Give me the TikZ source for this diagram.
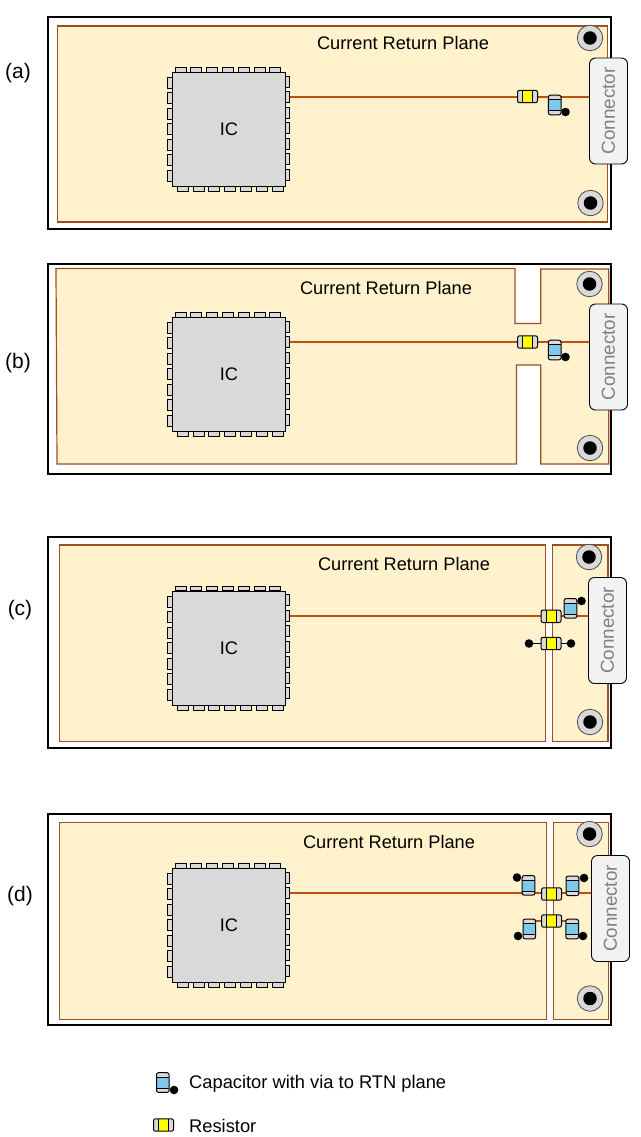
\documentclass[tikz,border=0pt]{standalone}
\usepackage{fontspec}
\setmainfont{Liberation Sans}
\pgfdeclarelayer{planes}
\pgfdeclarelayer{traces}
\pgfsetlayers{planes,traces,main}
\definecolor{planefill}{HTML}{FFF2CC}
\definecolor{planeedge}{HTML}{9C4F20}
\definecolor{tracecol}{HTML}{C0500F}
\definecolor{icgray}{HTML}{D9D9D9}
\definecolor{capblue}{HTML}{7EC8EA}
\definecolor{resyellow}{HTML}{FFFF00}
\tikzset{
  x=1pt,y=-1pt,
  boardframe/.style={draw=black,line width=2.2pt,fill=white},
  planeshape/.style={draw=planeedge,line width=1.2pt,fill=planefill},
  tracewire/.style={draw=tracecol,line width=1.8pt},
  blackwire/.style={draw=black,line width=1.2pt},
  pinbox/.style={draw=black,line width=.8pt,fill=icgray,inner sep=0,outer sep=0},
  icbody/.style={draw=black,line width=1pt,fill=icgray,inner sep=0,outer sep=0,minimum width=113.6pt,minimum height=114.2pt,font=\fontsize{18.2}{20}\selectfont},
  conbox/.style={draw=black,line width=.9pt,fill=black!5,rounded corners=6pt,inner sep=0,outer sep=0,minimum width=38pt,minimum height=106pt},
  context/.style={text=black!50,rotate=90,font=\fontsize{18.8}{20}\selectfont,inner sep=0},
  holeouter/.style={circle,draw=black!70,line width=.8pt,fill=icgray,minimum size=25.5pt,inner sep=0,outer sep=0},
  holeinner/.style={circle,fill=black,minimum size=13.5pt,inner sep=0,outer sep=0},
  viadot/.style={circle,fill=black,minimum size=8.6pt,inner sep=0,outer sep=0},
  resbox/.style={draw=black,line width=1pt,fill=icgray,rounded corners=2pt,inner sep=0,outer sep=0,minimum width=20pt,minimum height=12.4pt,
    path picture={\fill[resyellow] ([xshift=-5pt]path picture bounding box.south) rectangle ([xshift=5pt]path picture bounding box.north);
      \draw[black,line width=.6pt] ([xshift=-5pt]path picture bounding box.south) -- ([xshift=-5pt]path picture bounding box.north);
      \draw[black,line width=.6pt] ([xshift=5pt]path picture bounding box.south) -- ([xshift=5pt]path picture bounding box.north);}},
  capbox/.style={draw=black,line width=1pt,fill=icgray,rounded corners=2pt,inner sep=0,outer sep=0,minimum width=12.6pt,minimum height=19.6pt,
    path picture={\fill[capblue] ([yshift=-5.5pt]path picture bounding box.west) rectangle ([yshift=5.5pt]path picture bounding box.east);
      \draw[black,line width=.6pt] ([yshift=-5.5pt]path picture bounding box.west) -- ([yshift=-5.5pt]path picture bounding box.east);
      \draw[black,line width=.6pt] ([yshift=5.5pt]path picture bounding box.west) -- ([yshift=5.5pt]path picture bounding box.east);}},
  titletext/.style={font=\fontsize{18.2}{20}\selectfont,inner sep=0},
  panellabel/.style={font=\fontsize{21}{22}\selectfont,inner sep=0},
  legendtext/.style={font=\fontsize{18.3}{20}\selectfont,inner sep=0,anchor=west},
}
% IC with its pins: name, centre y
\newcommand{\icchip}[2]{%
  \foreach \k in {0,...,6}{%
    \node[pinbox,minimum width=11pt,minimum height=4.7pt] (#1-t\k) at ({180.5+15.8*\k},{#2-59.7}) {};
    \node[pinbox,minimum width=11pt,minimum height=4.7pt] (#1-b\k) at ({182.7+15.8*\k},{#2+59.7}) {};
    \node[pinbox,minimum width=4.7pt,minimum height=11pt] (#1-l\k) at (169.6,{#2-46.7+15.5*\k}) {};
    \node[pinbox,minimum width=4.4pt,minimum height=11pt] (#1-r\k) at (287.6,{#2-48+15.5*\k}) {};
  }
  \node[icbody] (#1) at (229,#2) {IC};
}
% connector: name, left x, centre y
\newcommand{\conblock}[3]{%
  \node[conbox,anchor=west] (#1) at (#2,#3) {};
  \node[context] (#1-text) at (#1.center) {Connector};
}
% mounting hole: name, x, y
\newcommand{\mounthole}[3]{%
  \node[holeouter] (#1) at (#2,#3) {};
  \node[holeinner] (#1-in) at (#1.center) {};
}
\begin{document}
\begin{tikzpicture}
\useasboundingbox (0,0) rectangle (640,1137);
\begin{pgfonlayer}{planes}
  \fill[white] (0,0) rectangle (640,1137);
\end{pgfonlayer}

% ---------- (a)
\begin{pgfonlayer}{planes}
  \draw[boardframe] (48,17) rectangle (611,229);
  \draw[planeshape] (57.5,26) rectangle (607.5,222);
\end{pgfonlayer}
\node[panellabel] (la) at (18,73) {(a)};
\node[titletext] (ta) at (403,43) {Current Return Plane};
\icchip{ica}{129.5}
\mounthole{ha1}{590}{38}
\mounthole{ha2}{590.5}{203}
\conblock{cona}{589.5}{111}
\node[resbox] (ra) at (527.5,96.5) {};
\node[capbox] (ca) at (554.7,105) {};
\node[viadot] (da) at (565.5,112) {};
\begin{pgfonlayer}{traces}
  \draw[tracewire] (ica-r1.east) -- (ica-r1.east -| cona.west);
\end{pgfonlayer}

% ---------- (b)
\begin{pgfonlayer}{planes}
  \draw[boardframe] (48,264) rectangle (611,474);
  \draw[planeshape] (56,268.5) -- (515,268.5) -- (515,323.5) -- (540.7,323.5) -- (540.7,269) -- (608.7,269) -- (608.7,464) -- (540.7,464) -- (540.7,365) -- (516.5,365) -- (516.5,464) -- (57,464) -- cycle;
\end{pgfonlayer}
\node[panellabel] (lb) at (18,363) {(b)};
\node[titletext] (tb) at (386,288) {Current Return Plane};
\icchip{icb}{374.5}
\mounthole{hb1}{589.5}{284}
\mounthole{hb2}{590}{448}
\conblock{conb}{589.5}{357}
\node[resbox] (rb) at (527.5,342) {};
\node[capbox] (cb) at (554.7,350) {};
\node[viadot] (db) at (565.5,357) {};
\begin{pgfonlayer}{traces}
  \draw[tracewire] (icb-r1.east) -- (icb-r1.east -| conb.west);
\end{pgfonlayer}

% ---------- (c)
\begin{pgfonlayer}{planes}
  \draw[boardframe] (48,537) rectangle (611,748);
  \draw[planeshape] (59.5,545) rectangle (545.5,741.5);
  \draw[planeshape] (552.5,545) rectangle (608,741.5);
\end{pgfonlayer}
\node[panellabel] (lc) at (20,610) {(c)};
\node[titletext] (tc) at (404,564) {Current Return Plane};
\icchip{icc}{648.2}
\mounthole{hc1}{589}{557}
\mounthole{hc2}{590}{722}
\conblock{conc}{588.5}{630.5}
\node[resbox] (rc1) at (551,616.3) {};
\node[resbox] (rc2) at (551,643.5) {};
\node[capbox] (cc) at (570.5,608.3) {};
\node[viadot] (dc) at (581.5,601) {};
\node[viadot] (dc2) at (529,643.5) {};
\node[viadot] (dc3) at (571,643.5) {};
\begin{pgfonlayer}{traces}
  \draw[tracewire] (icc-r1.east) -- (icc-r1.east -| conc.west);
  \draw[blackwire] (dc2) -- (rc2.west);
  \draw[blackwire] (rc2.east) -- (dc3);
\end{pgfonlayer}

% ---------- (d)
\begin{pgfonlayer}{planes}
  \draw[boardframe] (48,814) rectangle (611,1025);
  \draw[planeshape] (59.5,822.5) rectangle (546.5,1019.5);
  \draw[planeshape] (553.5,822.5) rectangle (608.7,1019.5);
\end{pgfonlayer}
\node[panellabel] (ld) at (20,896) {(d)};
\node[titletext] (td) at (389,842) {Current Return Plane};
\icchip{icd}{925.5}
\mounthole{hd1}{589.5}{834}
\mounthole{hd2}{590}{998.5}
\conblock{cond}{591.5}{908.5}
\node[resbox] (rd1) at (551.5,894) {};
\node[resbox] (rd2) at (551.5,921) {};
\node[capbox] (cd1) at (528.5,885.3) {};
\node[capbox] (cd2) at (572.5,885.8) {};
\node[capbox] (cd3) at (529.3,929) {};
\node[capbox] (cd4) at (572.2,929) {};
\node[viadot] (dd1) at (517,877.5) {};
\node[viadot] (dd2) at (584,878) {};
\node[viadot] (dd3) at (518,936) {};
\node[viadot] (dd4) at (583,936) {};
\begin{pgfonlayer}{traces}
  \draw[tracewire] (icd-r1.east) -- (icd-r1.east -| cond.west);
  \draw[tracewire] (rd2.west -| cd3.east) -- (rd2.west);
  \draw[tracewire] (rd2.east) -- (rd2.east -| cd4.west);
\end{pgfonlayer}

% ---------- legend
\node[capbox] (lc1) at (162.8,1082.5) {};
\node[viadot] (lc2) at (174,1090) {};
\node[legendtext] (lt1) at (189,1083.5) {Capacitor with via to RTN plane};
\node[resbox] (lr1) at (163.5,1125) {};
\node[legendtext] (lt2) at (189,1125.5) {Resistor};
\end{tikzpicture}
\end{document}
